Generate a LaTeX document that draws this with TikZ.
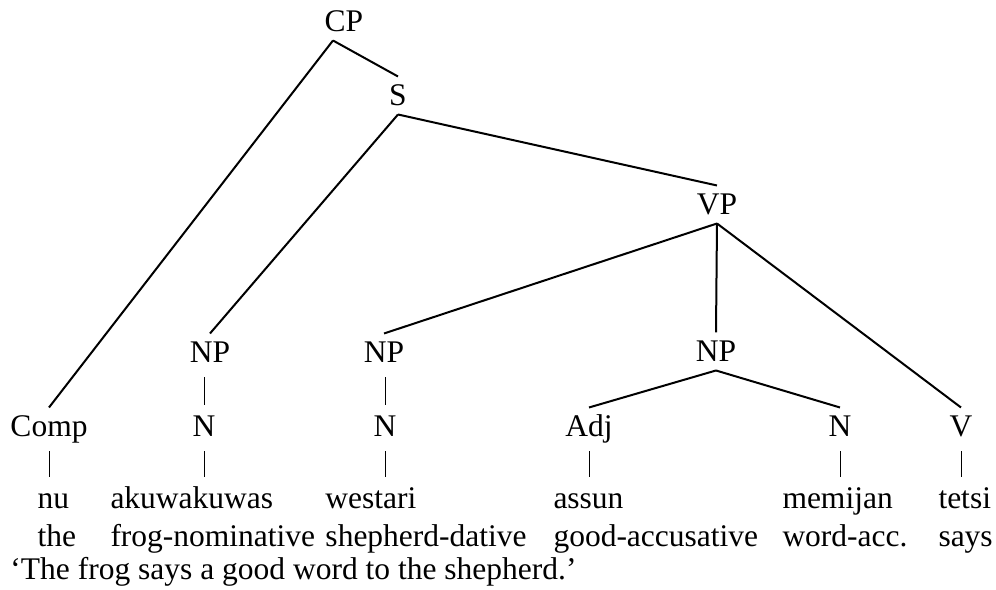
\documentclass[tikz,border=0pt]{standalone}
\usepackage{fontspec}
\setmainfont{Liberation Serif}
\usepackage{tikz}
\usetikzlibrary{calc}
\tikzset{
  cat/.style={anchor=base,inner xsep=1pt,inner ysep=3.2pt,text height=8.4pt,text depth=0pt,font=\fontsize{12.6}{15}\selectfont}, % category label
  word/.style={anchor=base west,inner xsep=0pt,inner ysep=3.2pt,text height=8.4pt,text depth=0pt,font=\fontsize{12.6}{15}\selectfont},
  branch/.style={draw=black,line width=0.8pt},
  bar/.style={draw=black,line width=0.4pt,shorten <=2.4pt,shorten >=0.8pt},
}

\begin{document}
\begin{tikzpicture}[x=0.4pt,y=-0.4pt]
  \useasboundingbox (0,0) rectangle (996,590);
  % phrase nodes
  \node[cat] (cp)  at (344,32)  {CP};
  \node[cat] (s)   at (398,106) {S};
  \node[cat] (vp)  at (717,215) {VP};
  \node[cat] (np1) at (210,363) {NP};
  \node[cat] (np2) at (384,363) {NP};
  \node[cat] (np3) at (716,362) {NP};
  % word classes
  \node[cat] (comp) at (49,437)  {Comp};
  \node[cat] (n1)   at (204,437) {N};
  \node[cat] (n2)   at (385,437) {N};
  \node[cat] (adj)  at (589,437) {Adj};
  \node[cat] (n4)   at (840,437) {N};
  \node[cat] (v)    at (961,437) {V};
  % words and glosses
  \foreach \x/\w/\g/\nm in {37/nu/the/wa,110/akuwakuwas/frog-nominative/wb,325/westari/shepherd-dative/wc,
                            553/assun/good-accusative/wd,782/memijan/word-acc./we,938/tetsi/says/wf} {
    \node[word] (\nm) at (\x,509) {\w};
    \node[word] (g\nm) at (\x,547) {\g};
  }
  \node[word] (trans) at (10,580) {‘The frog says a good word to the shepherd.’};
  % branches
  \draw[branch] ([xshift=-4.4pt]cp.south) -- (comp.north);
  \draw[branch] ([xshift=-4.4pt]cp.south) -- (s.north);
  \draw[branch] (s.south) -- (np1.north);
  \draw[branch] (s.south) -- (vp.north);
  \draw[branch] (vp.south) -- (np2.north);
  \draw[branch] (vp.south) -- (np3.north);
  \draw[branch] (vp.south) -- (v.north);
  \draw[branch] (np3.south) -- (adj.north);
  \draw[branch] (np3.south) -- (n4.north);
  % unary bars
  \draw[bar] (n1.north |- np1.south) -- (n1.north);
  \draw[bar] (n2.north |- np2.south) -- (n2.north);
  \foreach \c/\w in {comp/wa,n1/wb,n2/wc,adj/wd,n4/we,v/wf}
    \draw[bar] (\c.south) -- (\c.south |- \w.north);
\end{tikzpicture}
\end{document}
